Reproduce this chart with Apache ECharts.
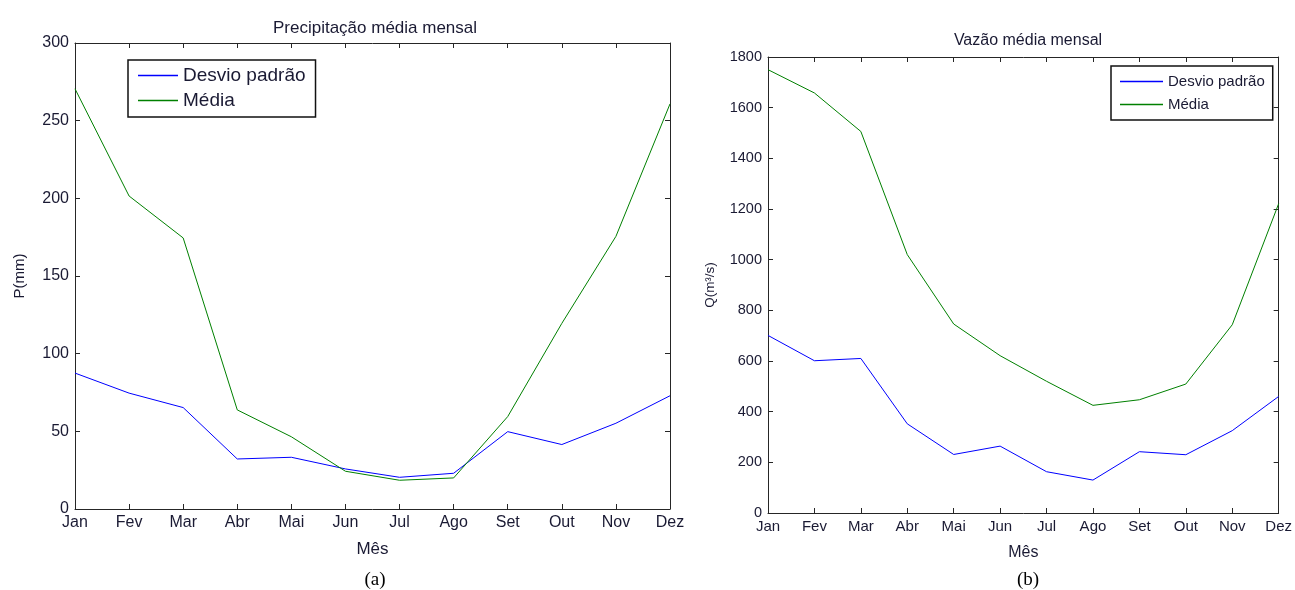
<!DOCTYPE html>
<html>
<head>
<meta charset="utf-8">
<script src="https://cdn.jsdelivr.net/npm/echarts@6/dist/echarts.min.js"></script>
<style>
  html, body { margin: 0; padding: 0; background: #fff; }
  #chart { width: 1295px; height: 590px; }
</style>
</head>
<body>
<div id="chart"></div>
<script>
// Monthly categories shared by both panels
const months = ['Jan', 'Fev', 'Mar', 'Abr', 'Mai', 'Jun', 'Jul', 'Ago', 'Set', 'Out', 'Nov', 'Dez'];

// (a) Precipitation, mm
const precipDesvio = [87.5, 74.6, 65.3, 32.2, 33.3, 25.8, 20.4, 23, 49.8, 41.5, 55.2, 72.9];
const precipMedia = [270.5, 201.5, 174.5, 63.8, 46.5, 24.3, 18.5, 20, 59.5, 119.5, 175.5, 260.8];

// (b) Discharge, m³/s
const vazaoDesvio = [701, 601, 610, 352, 231, 264, 163, 130, 242, 230, 325, 460];
const vazaoMedia = [1750, 1658, 1506, 1020, 746, 621, 520, 425, 447, 509, 743, 1221];

const seriesNames = ['Desvio padrão', 'Média'];
const BLUE = '#0000ff';
const GREEN = '#008000';
const AXIS = '#262626';
const TEXT = '#1a1a33';
const FONT = 'Liberation Sans';

const chart = echarts.init(document.getElementById('chart'), null, { renderer: 'canvas' });

function xAxes(gridIndex, fs, nameFs, nameGap) {
  const base = {
    type: 'category',
    data: months,
    gridIndex: gridIndex,
    boundaryGap: false,
    axisLine: { onZero: false, lineStyle: { color: AXIS, width: 1 } },
    axisTick: { inside: true, length: 5, lineStyle: { color: AXIS } },
    splitLine: { show: false }
  };
  return [
    Object.assign({}, base, {
      position: 'bottom',
      axisLabel: { interval: 0, color: TEXT, fontFamily: FONT, fontSize: fs, margin: 6 },
      name: 'Mês',
      nameLocation: 'middle',
      nameGap: nameGap,
      nameTextStyle: { color: TEXT, fontFamily: FONT, fontSize: nameFs }
    }),
    Object.assign({}, base, {
      position: 'top',
      axisLabel: { show: false }
    })
  ];
}

function yAxes(gridIndex, max, interval, name, gap, fs, nameFs) {
  const base = {
    type: 'value',
    gridIndex: gridIndex,
    min: 0,
    max: max,
    interval: interval,
    axisLine: { show: true, onZero: false, lineStyle: { color: AXIS, width: 1 } },
    axisTick: { show: true, inside: true, length: 5, lineStyle: { color: AXIS } },
    splitLine: { show: false }
  };
  return [
    Object.assign({}, base, {
      position: 'left',
      axisLabel: { color: TEXT, fontFamily: FONT, fontSize: fs, margin: 6,
        formatter: function (v) { return String(v); } },
      name: name,
      nameLocation: 'middle',
      nameGap: gap,
      nameTextStyle: { color: TEXT, fontFamily: FONT, fontSize: nameFs }
    }),
    Object.assign({}, base, {
      position: 'right',
      axisLabel: { show: false }
    })
  ];
}

function line(name, data, color, xi, yi) {
  return {
    name: name,
    type: 'line',
    data: data,
    xAxisIndex: xi,
    yAxisIndex: yi,
    symbol: 'none',
    lineStyle: { color: color, width: 1 },
    itemStyle: { color: color },
    animation: false
  };
}

function legend(left, top, fs, itemWidth, itemGap, padding) {
  return {
    data: seriesNames,
    orient: 'vertical',
    left: left,
    top: top,
    icon: 'rect',
    itemWidth: itemWidth,
    itemHeight: 1.5,
    itemGap: itemGap,
    padding: padding,
    borderColor: '#111',
    borderWidth: 1.5,
    textStyle: { color: TEXT, fontFamily: FONT, fontSize: fs }
  };
}

chart.setOption({
  animation: false,
  backgroundColor: '#ffffff',
  title: [
    { text: 'Precipitação média mensal', left: 370, top: 15, textAlign: 'center',
      textStyle: { color: TEXT, fontFamily: FONT, fontSize: 17, fontWeight: 'normal' } },
    { text: 'Vazão média mensal', left: 1023, top: 28, textAlign: 'center',
      textStyle: { color: TEXT, fontFamily: FONT, fontSize: 16, fontWeight: 'normal' } },
    { text: '(a)', left: 370, top: 566, textAlign: 'center',
      textStyle: { color: '#000', fontFamily: 'Liberation Serif', fontSize: 19, fontWeight: 'normal' } },
    { text: '(b)', left: 1023, top: 566, textAlign: 'center',
      textStyle: { color: '#000', fontFamily: 'Liberation Serif', fontSize: 19, fontWeight: 'normal' } }
  ],
  legend: [
    legend(128, 60, 19, 40, 6, [6, 10, 7, 10]),
    legend(1111, 66, 15, 43, 8, [8, 8, 8, 9])
  ],
  grid: [
    { left: 75, top: 43, width: 595, height: 466, containLabel: false },
    { left: 768, top: 57, width: 513, height: 456, containLabel: false }
  ],
  xAxis: xAxes(0, 16, 17, 32).concat(xAxes(1, 15, 16, 32)),
  yAxis: yAxes(0, 300, 50, 'P(mm)', 48, 16, 15).concat(yAxes(1, 1800, 200, 'Q(m³/s)', 51, 14.5, 13.5)),
  series: [
    line(seriesNames[0], precipDesvio, BLUE, 0, 0),
    line(seriesNames[1], precipMedia, GREEN, 0, 0),
    line(seriesNames[0], vazaoDesvio, BLUE, 2, 2),
    line(seriesNames[1], vazaoMedia, GREEN, 2, 2)
  ]
});
</script>
</body>
</html>
